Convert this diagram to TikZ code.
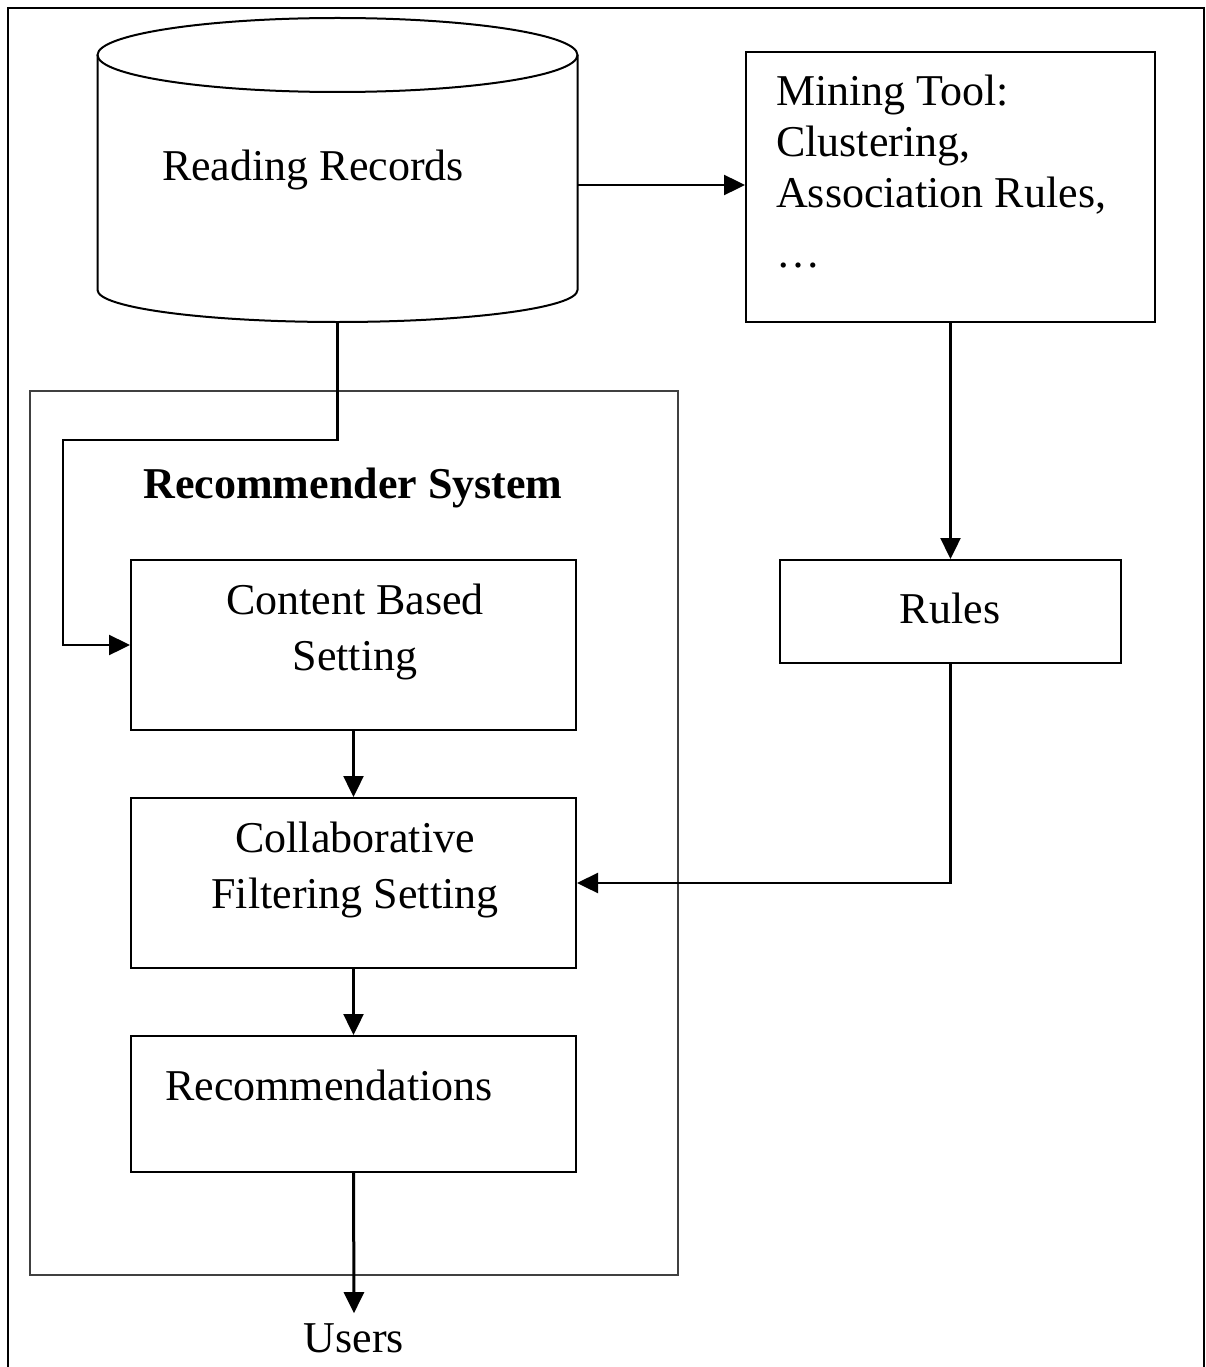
\documentclass[tikz,border=0pt]{standalone}
\usepackage{fontspec}
\setmainfont{Liberation Serif}
\usetikzlibrary{arrows.meta}
\tikzset {>={Triangle[length=21pt,width=20pt]}}
\tikzset{
  box/.style={draw,line width=2pt,inner sep=0pt},
  sysbox/.style={draw=black!75,line width=1.6pt,inner sep=0pt},
  txt/.style={inner sep=0pt,font=\fontsize{44}{56}\selectfont,align=center},
  conn/.style={line width=2.4pt},
  arr/.style={conn,->}
}

\begin{document}
\begin{tikzpicture}[x=1pt,y=-1pt]
\useasboundingbox (0,0) rectangle (1206,1367);
% Outer frame, open at the bottom
\draw[line width=2pt] (7.5,1367) -- (7.5,8) -- (1204,8) -- (1204,1367);

% Draw the reading records store
\coordinate (rrtop) at (337.5,55);
\coordinate (rrbot) at (337.5,322);
\coordinate (rreast) at (577.5,185);
\draw[line width=2pt] (rrtop) ellipse [x radius=240, y radius=37];
\draw[line width=2pt] (97.5,55) -- (97.5,290)
  arc[start angle=180, end angle=0, x radius=240, y radius=32] -- (577.5,55);
\node[txt] (rrtext) at (313,170) {Reading Records};

% Mining tool and rules
\node[box,minimum width=409,minimum height=270] (mt) at (950.5,187) {};
\node[txt,font=\fontsize{44}{51}\selectfont,align=left,anchor=north west]
  (mttext) at (776,75) {Mining Tool:\\Clustering,\\Association Rules,\\[9pt]\dots};
\node[box,minimum width=341,minimum height=103] (rules) at (950.5,611.5) {};
\node[txt] (rulestext) at (950,608) {Rules};

% Recommender system and its settings
\node[sysbox,minimum width=648,minimum height=884] (recsys) at (354,833) {};
\node[txt,font=\fontsize{44}{56}\selectfont\bfseries] (rstitle) at (353,488) {Recommender System};
\node[box,minimum width=445,minimum height=170] (cbs) at (353.5,645) {};
\node[txt] (cbstext) at (355,632) {Content Based\\Setting};
\node[box,minimum width=445,minimum height=170] (cfs) at (353.5,883) {};
\node[txt] (cfstext) at (355,870) {Collaborative\\Filtering Setting};
\node[box,minimum width=445,minimum height=136] (rec) at (353.5,1104) {};
\node[txt] (rectext) at (329,1085) {Recommendations};
\node[txt] (users) at (354,1338) {Users};

% Connectors
\coordinate (kneeA) at (63,440);
\draw[arr] (rreast) -- (rreast -| mt.west);
\draw[arr] (mt.south) -- (rules.north);
\draw[arr] (rules.south) |- (cfs.east);
\draw[arr] (rrbot) |- (kneeA) |- (cbs.west);
\draw[arr] (cbs.south) -- (cfs.north);
\draw[arr] (cfs.south) -- (rec.north);
\draw[arr,line width=3pt] (rec.south) -- ([yshift=10pt]users.north);
\end{tikzpicture}
\end{document}
